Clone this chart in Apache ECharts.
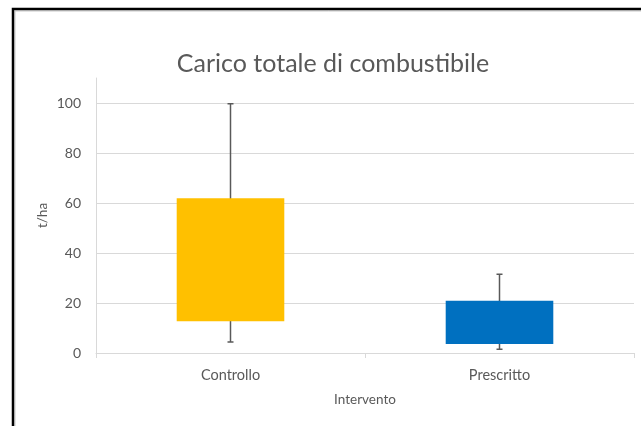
<!DOCTYPE html>
<html>
<head>
<meta charset="utf-8">
<script src="https://cdn.jsdelivr.net/npm/echarts@6/dist/echarts.min.js"></script>
<style>
  html, body { margin: 0; padding: 0; background: #fff; }
  #chart { width: 641px; height: 426px; }
</style>
</head>
<body>
<div id="chart"></div>
<script>
const title = 'Carico totale di combustibile';
const categories = ['Controllo', 'Prescritto'];
const boxLow = [12.7, 3.6];      // bottom of the box
const boxHigh = [61.9, 20.9];    // top of the box
const whiskerLow = [4.4, 1.5];
const whiskerHigh = [99.7, 31.5];
const barColors = ['#FFC000', '#0070C0'];

const textColor = '#595959';
const lineColor = '#d9d9d9';
const font = 'Lato';

// box = invisible base + visible part stacked on it
const baseData = boxLow;
const boxData = boxHigh.map((v, i) => ({
  value: +(v - boxLow[i]).toFixed(2),
  itemStyle: { color: barColors[i] }
}));
const whiskerData = categories.map((c, i) => [i, whiskerLow[i], whiskerHigh[i]]);

const option = {
  animation: false,
  title: {
    text: title,
    left: 328,
    textAlign: 'center',
    top: 46,
    textStyle: {
      fontFamily: font,
      fontSize: 25,
      fontWeight: 'normal',
      color: textColor
    }
  },
  grid: {
    left: 96,
    right: 7,
    top: 78,
    bottom: 73,
    containLabel: false
  },
  xAxis: {
    type: 'category',
    data: categories,
    name: 'Intervento',
    nameLocation: 'middle',
    nameGap: 40,
    nameTextStyle: { fontFamily: font, fontSize: 13.5, color: textColor },
    axisLine: { lineStyle: { color: lineColor, width: 1 } },
    axisTick: { show: true, length: 5, lineStyle: { color: lineColor } },
    axisLabel: { fontFamily: font, fontSize: 14.5, color: textColor, margin: 15 }
  },
  yAxis: {
    type: 'value',
    min: 0,
    max: 110,
    interval: 20,
    name: 't/ha',
    nameLocation: 'middle',
    nameGap: 46,
    nameMoveOverlap: false,
    nameTextStyle: { fontFamily: font, fontSize: 13.5, color: textColor },
    axisLine: { show: true, lineStyle: { color: lineColor, width: 1 } },
    axisTick: { show: false },
    axisLabel: { fontFamily: font, fontSize: 14, color: textColor, margin: 15, showMaxLabel: false },
    splitLine: { showMaxLine: false, lineStyle: { color: lineColor, width: 1 } }
  },
  graphic: [
    {
      type: 'rect',
      silent: true,
      shape: { x: 15, y: 11, width: 700, height: 500 },
      style: { fill: 'none', stroke: '#c8c8c8', lineWidth: 1 }
    },
    {
      type: 'rect',
      silent: true,
      shape: { x: 13, y: 9, width: 700, height: 500 },
      style: { fill: 'none', stroke: '#000', lineWidth: 2.5 }
    }
  ],
  series: [
    {
      type: 'custom',
      name: 'whisker',
      z: 1,
      renderItem: function (params, api) {
        const x = api.value(0);
        const lo = api.coord([x, api.value(1)]);
        const hi = api.coord([x, api.value(2)]);
        const cap = 3;
        const style = { stroke: textColor, lineWidth: 1.5 };
        return {
          type: 'group',
          children: [
            { type: 'line', shape: { x1: lo[0], y1: lo[1], x2: hi[0], y2: hi[1] }, style: style },
            { type: 'line', shape: { x1: lo[0] - cap, y1: lo[1], x2: lo[0] + cap, y2: lo[1] }, style: style },
            { type: 'line', shape: { x1: hi[0] - cap, y1: hi[1], x2: hi[0] + cap, y2: hi[1] }, style: style }
          ]
        };
      },
      encode: { x: 0, y: [1, 2] },
      data: whiskerData
    },
    {
      type: 'bar',
      stack: 'box',
      z: 2,
      barWidth: '40%',
      itemStyle: { color: 'transparent' },
      data: baseData
    },
    {
      type: 'bar',
      stack: 'box',
      z: 2,
      barWidth: '40%',
      data: boxData
    }
  ]
};

const chart = echarts.init(document.getElementById('chart'));
chart.setOption(option);
</script>
</body>
</html>
